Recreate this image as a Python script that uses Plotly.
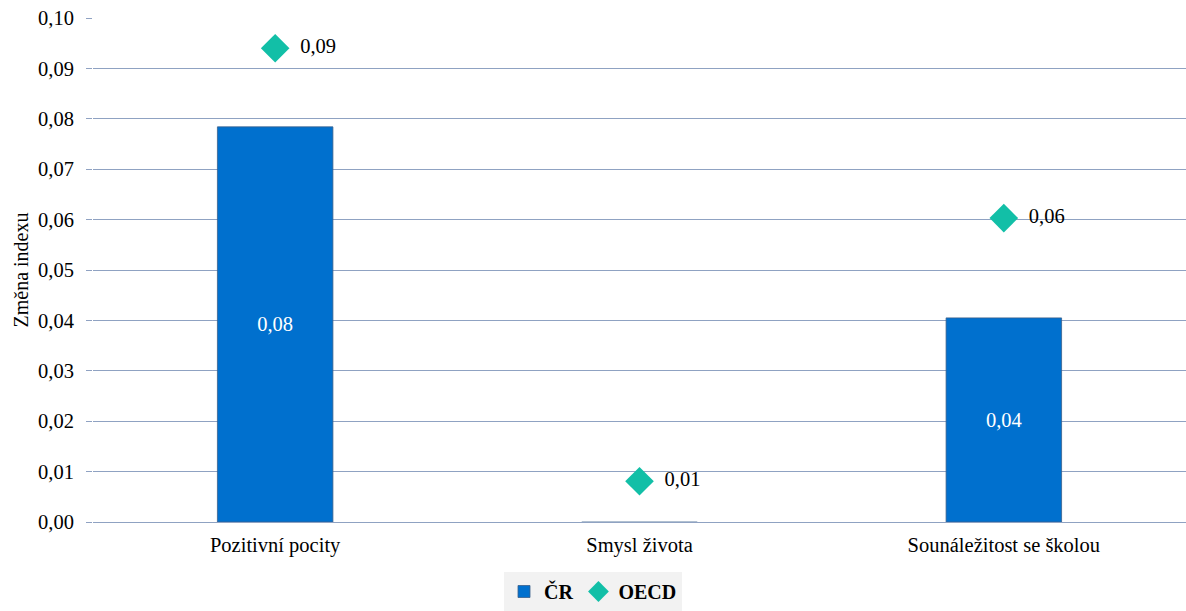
import plotly.graph_objects as go

categories = ["Pozitivní pocity", "Smysl života", "Sounáležitost se školou"]
cr_values = [0.0784, -0.0004, 0.0405]
oecd_values = [0.094, 0.0081, 0.0603]
y_ticks = [0.00, 0.01, 0.02, 0.03, 0.04, 0.05, 0.06, 0.07, 0.08, 0.09, 0.10]


def fmt(v):
    return f"{v:.2f}".replace(".", ",")


font_family = "Liberation Serif"

fig = go.Figure()
fig.add_trace(go.Bar(
    x=categories,
    y=cr_values,
    name="ČR",
    marker=dict(color="#0070CE", line=dict(color="#3A5F8A", width=0.8)),
    width=0.317,
    text=[fmt(v) if abs(v) > 0.005 else "" for v in cr_values],
    textposition="inside",
    insidetextanchor="middle",
    textfont=dict(color="white", size=20.5, family=font_family),
    textangle=0,
))
fig.add_trace(go.Scatter(
    x=categories,
    y=oecd_values,
    name="OECD",
    mode="markers+text",
    marker=dict(symbol="diamond", size=22, color="#12BFA7"),
    text=["\u00a0\u00a0" + fmt(v) for v in oecd_values],
    textposition="middle right",
    textfont=dict(color="black", size=20.5, family=font_family),
))

fig.update_layout(
    width=1186,
    height=611,
    margin=dict(l=93, r=0, t=18, b=89, autoexpand=False),
    paper_bgcolor="white",
    plot_bgcolor="white",
    separators=", ",
    font=dict(family=font_family, size=20, color="black"),
    showlegend=True,
    legend=dict(
        orientation="h",
        xref="container",
        yref="container",
        x=0.5, xanchor="center",
        y=0.0, yanchor="bottom",
        bgcolor="#F2F2F2",
        font=dict(family=font_family, size=20, color="black", weight="bold"),
        itemwidth=30,
        traceorder="normal",
    ),
    bargap=0.5,
)
fig.update_xaxes(
    automargin=False,
    showgrid=False,
    showline=False,
    ticks="",
    ticklabelstandoff=8,
    tickfont=dict(size=20.5, family=font_family, color="black"),
)
fig.update_yaxes(
    automargin=False,
    range=[0, 0.10],
    tickvals=y_ticks,
    ticktext=[fmt(v) for v in y_ticks],
    showgrid=True,
    gridcolor="#8FA2C2",
    gridwidth=1,
    zeroline=True,
    zerolinecolor="#8FA2C2",
    zerolinewidth=1,
    ticks="outside",
    ticklen=6,
    tickcolor="#8FA2C2",
    ticklabelstandoff=8,
    tickfont=dict(size=20.5, family=font_family, color="black"),
    title=dict(text="Změna indexu", font=dict(size=20, family=font_family, color="black"), standoff=4),
    showline=False,
)

fig.write_html(
    "out.html",
    config={"displayModeBar": False},
    post_script="document.body.style.margin='0';document.body.style.padding='0';",
)
